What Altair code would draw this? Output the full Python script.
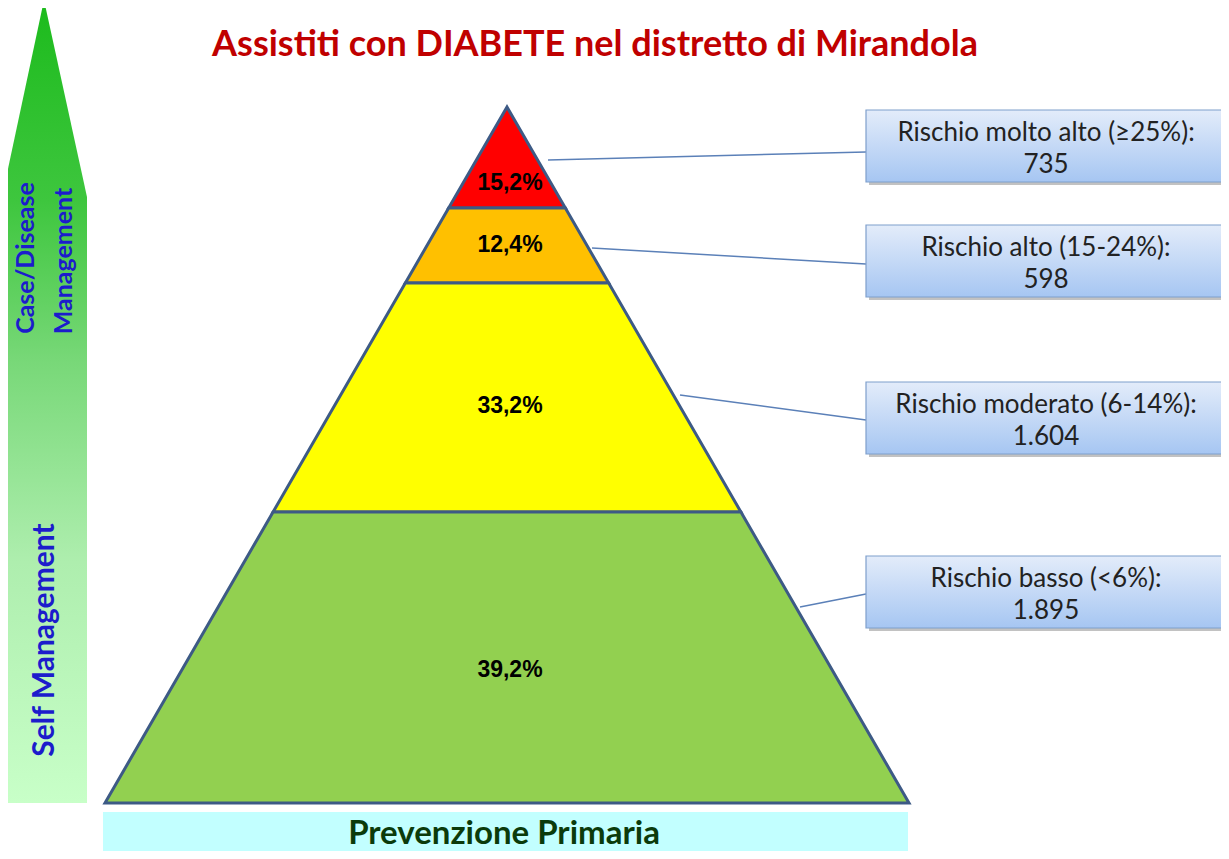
import altair as alt
import pandas as pd

# ---- data ----
titolo = "Assistiti con DIABETE nel distretto di Mirandola"
fasce = ["molto alto", "alto", "moderato", "basso"]
etichette = ["Rischio molto alto (≥25%):", "Rischio alto (15-24%):",
             "Rischio moderato (6-14%):", "Rischio basso (<6%):"]
conteggi = ["735", "598", "1.604", "1.895"]
percentuali = ["15,2%", "12,4%", "33,2%", "39,2%"]
colori = ["#ff0000", "#ffc000", "#ffff00", "#92d050"]

# pyramid geometry in picture units (y grows downward)
bordi_y = [107, 208, 283, 512, 803]
centro_x = 507
semi_base = 402
perc_y = [183, 245, 406, 670]
box_top = [110, 225, 382, 556]
box_h = 72
box_x = [866, 1226]
conn_x0 = [548, 592, 680, 800]
conn_y0 = [160, 248, 395, 607]
conn_x1 = 866
conn_y1 = [152, 264, 420, 594]

W, H = 1213, 843
xs = alt.Scale(domain=[8, 8 + W], nice=False, zero=False)
ys = alt.Scale(domain=[8 + H, 8], nice=False, zero=False)


def X(f, **kw):
    return alt.X(f, type="quantitative", scale=xs, axis=None, **kw)


def Y(f, **kw):
    return alt.Y(f, type="quantitative", scale=ys, axis=None, **kw)


def hw(y):
    return semi_base * (y - bordi_y[0]) / (bordi_y[-1] - bordi_y[0])


rows = []
for i, f in enumerate(fasce):
    for y in (bordi_y[i], bordi_y[i + 1]):
        rows.append({"fascia": f, "y": y, "xl": centro_x - hw(y), "xr": centro_x + hw(y)})
piramide = pd.DataFrame(rows)

band = alt.Chart(piramide).mark_area(orient="horizontal", stroke="#3d5a85",
                                     strokeWidth=3).encode(
    y=Y("y"),
    x=X("xl", stack=None),
    x2="xr",
    color=alt.Color("fascia:N", scale=alt.Scale(domain=fasce, range=colori), legend=None),
)

grad_arrow = alt.LinearGradient(
    gradient="linear", x1=0, x2=0, y1=0, y2=1,
    stops=[alt.GradientStop(offset=0, color="#1cbb1c"),
           alt.GradientStop(offset=0.25, color="#3ec63e"),
           alt.GradientStop(offset=0.45, color="#78d878"),
           alt.GradientStop(offset=0.7, color="#aeeeae"),
           alt.GradientStop(offset=1, color="#c8ffc8")])

# left arrow
freccia = pd.DataFrame({"y": [0, 197, 803], "xl": [44, 2, 2], "xr": [44, 87, 87]})
arrow = alt.Chart(freccia).mark_area(orient="horizontal", color=grad_arrow).encode(
    y=Y("y"),
    x=X("xl", stack=None),
    x2="xr",
)

vert = pd.DataFrame({"t": ["Case/Disease", "Management"],
                     "x": [26, 64], "y": [258, 261]})
vtext = alt.Chart(vert).mark_text(angle=270, font="Lato", fontWeight="bold",
                                  fontSize=25, color="#1c1ccc", baseline="middle").encode(
    x=X("x"), y=Y("y"), text="t:N")
vert2 = pd.DataFrame({"t": ["Self Management"], "x": [45], "y": [640]})
vtext2 = alt.Chart(vert2).mark_text(angle=270, font="Lato", fontWeight="bold",
                                    fontSize=30, color="#1c1ccc", baseline="middle").encode(
    x=X("x"), y=Y("y"), text="t:N")

# bottom bar
base = pd.DataFrame({"x": [103], "x2": [908], "y": [812], "y2": [856]})
barra = alt.Chart(base).mark_rect(color="#c2ffff").encode(
    x=X("x"), x2="x2", y=Y("y"), y2="y2")
btext = alt.Chart(pd.DataFrame({"t": ["Prevenzione Primaria"], "x": [504], "y": [834]})).mark_text(
    font="Lato", fontWeight="bold", fontSize=33, color="#0b3b0b", baseline="middle").encode(
    x=X("x"), y=Y("y"), text="t:N")

# title
ttext = alt.Chart(pd.DataFrame({"t": [titolo], "x": [595], "y": [45]})).mark_text(
    font="Lato", fontWeight="bold", fontSize=36, color="#c00000", baseline="middle").encode(
    x=X("x"), y=Y("y"), text="t:N")

# percent labels
pdf = pd.DataFrame({"t": percentuali, "x": [centro_x + 3] * 4, "y": perc_y})
ptext = alt.Chart(pdf).mark_text(font="Liberation Sans", fontWeight="bold", fontSize=23,
                                 color="#000000", baseline="middle").encode(
    x=X("x"), y=Y("y"), text="t:N")

# connectors
cdf = pd.DataFrame({"x": conn_x0, "y": conn_y0, "x2": [conn_x1] * 4, "y2": conn_y1})
conn = alt.Chart(cdf).mark_rule(color="#5b80b8", strokeWidth=1.5).encode(
    x=X("x"), y=Y("y"), x2="x2", y2="y2")

# boxes
bdf = pd.DataFrame({"x": [box_x[0]] * 4, "x2": [box_x[1]] * 4,
                    "y": box_top, "y2": [t + box_h for t in box_top]})
sdf = bdf.copy()
sdf["x"] += 3; sdf["x2"] += 3; sdf["y"] += 3; sdf["y2"] += 3
shadow = alt.Chart(sdf).mark_rect(color="#9a9a9a", opacity=0.6).encode(
    x=X("x"), x2="x2", y=Y("y"), y2="y2")
grad_box = alt.LinearGradient(
    gradient="linear", x1=0, x2=0, y1=0, y2=1,
    stops=[alt.GradientStop(offset=0, color="#e3ecfa"),
           alt.GradientStop(offset=1, color="#a6c6f2")])
boxes = alt.Chart(bdf).mark_rect(stroke="#7f9fcc", strokeWidth=1.2, color=grad_box).encode(
    x=X("x"), x2="x2", y=Y("y"), y2="y2")

trows = []
for i in range(4):
    cx = (box_x[0] + box_x[1]) / 2
    trows.append({"t": etichette[i], "x": cx, "y": box_top[i] + 23})
    trows.append({"t": conteggi[i], "x": cx, "y": box_top[i] + 55})
btxt = alt.Chart(pd.DataFrame(trows)).mark_text(font="Lato", fontSize=26, color="#222222",
                                               baseline="middle").encode(
    x=X("x"), y=Y("y"), text="t:N")

chart = alt.layer(arrow, vtext, vtext2, barra, btext, ttext, band, ptext, conn, shadow, boxes,
                  btxt).properties(
    width=W, height=H, padding=0, autosize=alt.AutoSizeParams(type="none")
).configure_view(stroke=None)

chart.save("out.html", embed_options={"renderer": "svg", "actions": False})
